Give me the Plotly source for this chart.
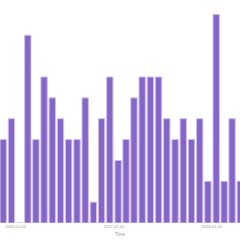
import plotly.graph_objects as go
import pandas as pd

months = pd.date_range("2015-11-01", "2018-04-01", freq="MS").strftime("%Y-%m-%d").tolist()
counts = [4, 5, 0, 9, 4, 7, 6, 5, 4, 4, 6, 1, 5, 7, 3, 4, 6, 7, 7, 7, 5, 4, 5, 4, 5, 2, 10, 2, 5, 2]
tick_vals = ["2016-01-01", "2017-01-01", "2018-01-01"]

fig = go.Figure(go.Bar(
    x=months, y=counts,
    xperiod="M1", xperiodalignment="middle",
    marker=dict(color="#8565C8", line=dict(color="#CDBFEC", width=1)),
))
fig.update_layout(
    width=240, height=240,
    margin=dict(l=0, r=0, t=4, b=17),
    plot_bgcolor="white", paper_bgcolor="white",
    bargap=0.2,
    showlegend=False,
)
fig.update_xaxes(
    range=["2015-11-04", "2018-04-15"],
    tickvals=tick_vals, ticktext=tick_vals,
    tickfont=dict(size=4, color="#999999", family="Arial"),
    ticks="", showgrid=False, zeroline=False, ticklen=0,
    title=dict(text="Time", font=dict(size=4.5, color="#999999", family="Arial"), standoff=4),
)
fig.update_yaxes(visible=False, range=[0, 10.5], showgrid=False)
fig.write_html("out.html")
